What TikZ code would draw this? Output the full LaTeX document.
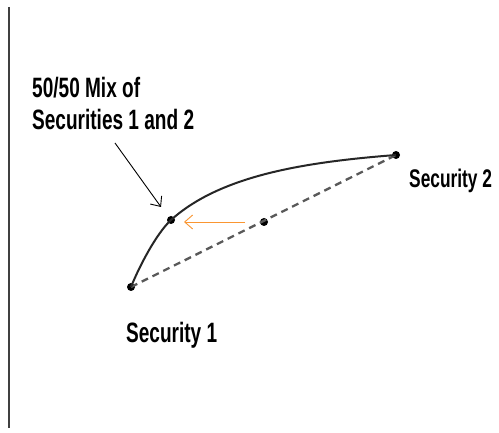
\documentclass[tikz,border=0pt]{standalone}
\usepackage{fontspec}
\newfontfamily\narrowfont{Liberation Sans}[FakeStretch=0.68]
\usetikzlibrary{arrows.meta}
\definecolor{orangearrow}{RGB}{250,150,50}
\tikzset{
  lbl/.style={font=\narrowfont\bfseries\fontsize{28}{32}\selectfont, anchor=base west, inner sep=0pt},
  lblsmall/.style={lbl, font=\narrowfont\bfseries\fontsize{25.5}{30}\selectfont},
  dotpt/.style={circle, fill=black, inner sep=0pt, minimum size=8pt},
  frontier/.style={line width=2pt, black!85},
  chord/.style={line width=2.3pt, black!65, dash pattern=on 7pt off 5pt},
  pointer/.style={line width=0.9pt, -{Straight Barb[length=8pt,width=14pt]}}
}
\begin{document}
\begin{tikzpicture}[x=1pt,y=-1pt]
\useasboundingbox (0,0) rectangle (499,433);
\fill[white] (0,0) rectangle (499,433);
\coordinate (axtop) at (9,7);
\coordinate (axbot) at (9,428);
\draw[line width=1.5pt, black!75] (axtop) -- (axbot);

\node[dotpt] (s1) at (131,287) {};
\node[dotpt] (s2) at (396,155) {};
\node[dotpt] (mix) at (171,220) {};
\node[dotpt] (mid) at (264,222) {};

\draw[chord] (s1.center) -- (s2.center);
\draw[frontier] (s1.center) .. controls (139,267) and (156,234) .. (mix.center)
  .. controls (221,175) and (306,162) .. (s2.center);

\coordinate (oa) at (245,222);
\coordinate (ob) at (184,222);
\draw[pointer, orangearrow] (oa) -- (ob);

\coordinate (ba) at (115,143);
\coordinate (bb) at (161,207);
\draw[pointer, black] (ba) -- (bb);

\node[lbl] (l1) at (32,98) {50/50 Mix of};
\node[lbl] (l2) at (32,130) {Securities 1 and 2};
\node[lblsmall] (t2) at (409,188) {Security 2};
\node[lbl] (t1) at (126,343) {Security 1};
\end{tikzpicture}
\end{document}
